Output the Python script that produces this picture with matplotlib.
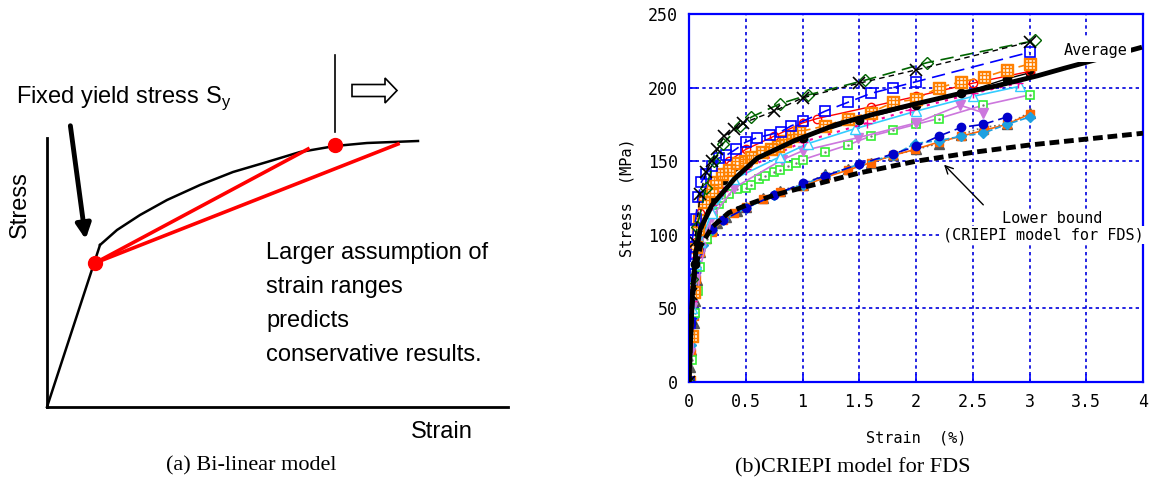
import numpy as np
import matplotlib.pyplot as plt
from matplotlib.path import Path
from matplotlib.patches import FancyArrow

# ---------------- data ----------------
# (a) schematic bi-linear model (arbitrary units, origin at axis corner)
elastic_x = [0, 53]
elastic_y = [0, 162]
plastic_x = [53, 70, 93, 120, 153, 186, 220, 253, 288, 320, 371]
plastic_y = [162, 177, 192, 207, 222, 235, 245, 255, 261, 264, 266]
yield_pt = (48, 144)
upper_pt = (288, 262)
bilin_end_x = [261, 351]
bilin_end_y = [258, 263]

# (b) measured stress-strain curves, strain (%) / stress (MPa)
x_cross = [0, 0.02, 0.05, 0.1, 0.15, 0.2, 0.25, 0.31, 0.4, 0.48, 0.75, 1.0, 1.5, 2.0, 3.0]
y_cross = [0, 60, 95, 128, 143, 150, 158, 167, 172, 176, 184, 193, 203, 212, 231]

x_dia = [0, 0.03, 0.07, 0.15, 0.22, 0.3, 0.45, 0.55, 0.8, 1.05, 1.55, 2.1, 3.05]
y_dia = [0, 70, 105, 132, 150, 162, 174, 180, 189, 195, 205, 217, 232]

x_bsq = [0, 0.005, 0.01, 0.02, 0.04, 0.06, 0.08, 0.11, 0.15, 0.2, 0.26, 0.33, 0.41,
         0.5, 0.6, 0.71, 0.81, 0.9, 1.0, 1.2, 1.4, 1.6, 1.8, 2.0, 3.0]
y_bsq = [0, 40, 80, 92, 103, 111, 126, 136, 141, 147, 152, 154, 158,
         163, 166, 168, 170, 174, 177, 184, 190, 196, 200, 204, 224]

x_osq = [0, 0.03, 0.04, 0.06, 0.08, 0.09, 0.13, 0.2, 0.24, 0.29, 0.35, 0.42, 0.49, 0.55,
         0.64, 0.72, 0.78, 0.85, 0.91, 0.97, 1.2, 1.4, 1.6, 1.8, 2.0, 2.2, 2.4, 2.6, 2.8, 3.0]
y_osq = [0, 31, 61, 92, 104, 110, 122, 130, 136, 141, 144, 149, 150, 153,
         156, 158, 160, 164, 167, 170, 174, 179, 183, 190, 192, 200, 204, 207, 212, 216]

x_rcir = [0, 0.03, 0.06, 0.1, 0.2, 0.35, 0.5, 0.75, 1.0, 1.13, 1.6, 2.0, 2.5, 3.0]
y_rcir = [0, 60, 95, 115, 135, 150, 158, 167, 176, 179, 187, 194, 203, 211]

x_kcir = [0, 0.02, 0.05, 0.1, 0.2, 0.3, 0.5, 0.75, 1.0, 1.5, 2.0, 2.4, 2.8, 3.0]
y_kcir = [0, 40, 80, 105, 125, 137, 148, 158, 166, 178, 188, 196, 206, 210]

x_plus = [0, 0.03, 0.06, 0.1, 0.2, 0.3, 0.5, 1.0, 1.57, 1.95, 2.5, 2.9]
y_plus = [0, 55, 85, 100, 120, 130, 145, 163, 176, 185, 196, 203]

x_ctri = [0, 0.03, 0.06, 0.1, 0.2, 0.4, 0.8, 1.05, 1.46, 2.0, 2.5, 2.92]
y_ctri = [0, 50, 80, 95, 115, 138, 153, 162, 172, 184, 194, 201]

x_ptri = [0, 0.01, 0.03, 0.05, 0.1, 0.2, 0.4, 0.82, 1.0, 1.49, 2.0, 2.39, 2.59]
y_ptri = [0, 20, 50, 70, 92, 112, 132, 151, 157, 166, 176, 188, 183]

x_gsq = [0, 0.03, 0.04, 0.05, 0.08, 0.1, 0.16, 0.21, 0.26, 0.29, 0.35, 0.42, 0.5, 0.55,
         0.62, 0.67, 0.75, 0.8, 0.87, 0.94, 1.0, 1.2, 1.4, 1.6, 1.8, 2.0, 2.2, 2.59, 3.0]
y_gsq = [0, 15, 31, 47, 62, 78, 97, 115, 121, 125, 128, 131, 132, 134,
         138, 140, 143, 144, 147, 149, 151, 156, 161, 167, 171, 175, 179, 188, 195]

x_gtri = [0, 0.01, 0.02, 0.04, 0.05, 0.07, 0.1, 0.15, 0.2, 0.25, 0.33, 0.42, 0.5, 0.65,
          0.8, 1.0, 1.2, 1.4, 1.6, 1.8, 2.0, 2.2, 2.4, 2.59, 2.8, 3.0]
y_gtri = [0, 10, 22, 40, 55, 69, 88, 98, 104, 108, 112, 116, 119, 125,
          130, 134, 141, 145, 149, 154, 158, 162, 168, 173, 175, 183]

x_ofsq = [0, 0.02, 0.04, 0.06, 0.1, 0.15, 0.2, 0.3, 0.4, 0.5, 0.65, 0.8, 1.0, 1.2,
          1.4, 1.6, 1.8, 1.99, 2.2, 2.4, 2.6, 2.8, 3.0]
y_ofsq = [0, 20, 45, 70, 88, 97, 102, 110, 115, 119, 124, 129, 133, 139,
          144, 149, 154, 158, 163, 167, 171, 175, 182]

x_cdia = [0, 0.02, 0.04, 0.08, 0.12, 0.2, 0.3, 0.5, 0.75, 1.0, 1.2, 1.5, 1.8, 1.99,
          2.2, 2.4, 2.59, 2.8, 3.0]
y_cdia = [0, 25, 45, 80, 93, 103, 110, 118, 127, 134, 140, 148, 154, 162,
          164, 167, 169, 175, 180]

x_bcir = [0, 0.03, 0.06, 0.1, 0.2, 0.3, 0.5, 0.75, 1.0, 1.2, 1.5, 1.8, 2.0, 2.2, 2.4, 2.59, 2.8]
y_bcir = [0, 45, 75, 90, 104, 110, 118, 127, 135, 140, 148, 155, 160, 167, 173, 175, 180]

x_avg = [0, 0.03, 0.06, 0.1, 0.2, 0.4, 0.6, 0.93, 1.3, 1.68, 2.0, 2.39, 2.7, 3.07, 3.3, 3.97]
y_avg = [0, 60, 88, 104, 120, 138, 152, 164, 175, 183, 189, 196, 201, 208, 213, 227]

x_low = [0, 0.02, 0.05, 0.1, 0.2, 0.35, 0.5, 0.75, 1.0, 1.5, 2.0, 2.5, 3.0, 3.5, 4.0]
y_low = [0, 45, 75, 92, 105, 115, 120, 127, 132, 142, 150, 156, 161, 165, 169]

xticks = [0, 0.5, 1, 1.5, 2, 2.5, 3, 3.5, 4]
xtick_labels = ['0', '0.5', '1', '1.5', '2', '2.5', '3', '3.5', '4']
yticks = [0, 50, 100, 150, 200, 250]

# ---------------- figure ----------------
fig = plt.figure(figsize=(11.49, 4.84), dpi=100)
sans = 'Liberation Sans'
mono = 'DejaVu Sans Mono'

# (a) schematic
axa = fig.add_axes([0, 34 / 484, 560 / 1149, 450 / 484])
axa.set_xlim(-47, 513)
axa.set_ylim(-43, 407)
axa.axis('off')
axa.plot([0, 0], [0, 269], color='k', lw=2)
axa.plot([0, 461], [0, 0], color='k', lw=2)
axa.plot(elastic_x, elastic_y, color='k', lw=1.8)
axa.plot(plastic_x, plastic_y, color='k', lw=1.8)
for xe, ye in zip(bilin_end_x, bilin_end_y):
    axa.plot([yield_pt[0], xe], [yield_pt[1], ye], color='#FF0000', lw=2.6)
axa.plot(*yield_pt, 'o', color='#FF0000', ms=10, zorder=5)
axa.plot(*upper_pt, 'o', color='#FF0000', ms=10, zorder=5)
axa.plot([upper_pt[0], upper_pt[0]], [275, 352], color='k', lw=1.2)
axa.add_patch(FancyArrow(305, 316.5, 45, 0, width=12, head_width=25, head_length=12,
                         length_includes_head=True, fc='white', ec='k', lw=1.2))
axa.annotate('', xy=(39, 165), xytext=(23, 284),
             arrowprops=dict(arrowstyle='-|>', color='k', lw=3.5, mutation_scale=22))
axa.text(-31, 304, r'Fixed yield stress S$_\mathregular{y}$', fontsize=17,
         family=sans, ha='left', va='baseline')
axa.text(-27, 202, 'Stress', fontsize=17, family=sans, rotation=90,
         ha='center', va='center')
axa.text(395, -25, 'Strain', fontsize=17, family=sans, ha='center', va='center')
axa.text(219, 165, 'Larger assumption of\nstrain ranges\npredicts\nconservative results.',
         fontsize=17, family=sans, ha='left', va='top', linespacing=1.7)

# (b) CRIEPI model
ax = fig.add_axes([689 / 1149, 102 / 484, 454 / 1149, 368 / 484])
ax.set_xlim(0, 4)
ax.set_ylim(0, 250)

ms = 6
ax.plot(x_gtri, y_gtri, color='#666666', ls=':', lw=1.2, marker='^', ms=ms + 1,
        mfc='#555555', mec='#555555')
ax.plot(x_ofsq, y_ofsq, color='#FF6600', ls='-', lw=1.2, marker='s', ms=ms,
        mfc='#FF6600', mec='#FF6600')
ax.plot(x_cdia, y_cdia, color='#1EA0E0', ls='--', lw=1.2, marker='D', ms=ms - 1,
        mfc='#1EA0E0', mec='#1EA0E0')
ax.plot(x_bcir, y_bcir, color='#0000CC', ls=(0, (6, 3)), lw=1.2, marker='o', ms=ms,
        mfc='#0000CC', mec='#0000CC')
ax.plot(x_gsq, y_gsq, color='#CC77DD', ls='-', lw=1.2, marker='s', ms=ms,
        mfc='white', mec='#33EE33', mew=1.2)
ax.plot(x_gsq, y_gsq, ls='none', marker='.', ms=1.5, color='#777777')
ax.plot(x_ptri, y_ptri, color='#CC77DD', ls='-', lw=1.2, marker='v', ms=ms + 1,
        mfc='#CC77DD', mec='#CC77DD')
ax.plot(x_ctri, y_ctri, color='#33CCFF', ls='-', lw=1.2, marker='^', ms=ms + 1,
        mfc='white', mec='#33CCFF')
ax.plot(x_plus, y_plus, color='#FF0099', ls=(0, (1.5, 3)), lw=1.5, marker='+', ms=ms + 1,
        mec='#FF0099')
ax.plot(x_kcir, y_kcir, color='k', ls='-', lw=1.0, marker='o', ms=ms, mfc='k', mec='k')
ax.plot(x_avg, y_avg, color='k', ls='-', lw=3.5, zorder=3)
ax.plot(x_rcir, y_rcir, color='#FF0000', ls='-', lw=1.0, marker='o', ms=ms,
        mfc='none', mec='#FF0000')
# orange squares with grid pattern
grid_verts = [(-1, -1), (1, -1), (1, 1), (-1, 1), (-1, -1),
              (-1 / 3, -1), (-1 / 3, 1), (1 / 3, -1), (1 / 3, 1),
              (-1, -1 / 3), (1, -1 / 3), (-1, 1 / 3), (1, 1 / 3)]
grid_codes = [Path.MOVETO, Path.LINETO, Path.LINETO, Path.LINETO, Path.LINETO,
              Path.MOVETO, Path.LINETO, Path.MOVETO, Path.LINETO,
              Path.MOVETO, Path.LINETO, Path.MOVETO, Path.LINETO]
grid_marker = Path(grid_verts, grid_codes)
ax.plot(x_osq, y_osq, color='#FF8000', ls=(0, (5, 3)), lw=1.2, marker='s', ms=ms + 1,
        mfc='white', mec='#FF8000')
ax.plot(x_osq, y_osq, ls='none', marker=grid_marker, ms=ms + 2, mfc='none',
        mec='#FF8000', mew=1.0)
ax.plot(x_bsq, y_bsq, color='#0000FF', ls=(0, (8, 4)), lw=1.2, marker='s', ms=ms + 1,
        mfc='none', mec='#0000FF', mew=1.2)
ax.plot(x_dia, y_dia, color='#006400', ls=(0, (8, 4)), lw=1.2, marker='D', ms=ms,
        mfc='none', mec='#006400')
ax.plot(x_cross, y_cross, color='k', ls=(0, (4, 3)), lw=1.0, marker='x', ms=ms + 2,
        mec='k', mew=1.2)
ax.plot(x_low, y_low, color='k', ls=(0, (2, 1)), lw=3.5, zorder=4)

ax.set_xticks(xticks)
ax.set_xticklabels(xtick_labels)
ax.set_yticks(yticks)
ax.grid(True, color='#0000DD', ls=(0, (2, 2)), lw=1.2)
ax.set_axisbelow(True)
for sp in ax.spines.values():
    sp.set_color('#0000FF')
    sp.set_linewidth(1.6)
ax.tick_params(direction='in', length=6, width=1.2, color='#0000FF',
               labelsize=12, pad=8)
for lab in ax.get_xticklabels() + ax.get_yticklabels():
    lab.set_family(mono)
ax.set_xlabel('Strain  (%)', family=mono, fontsize=11, labelpad=14)
ax.set_ylabel('Stress  (MPa)', family=mono, fontsize=11, labelpad=10)

ax.text(3.58, 225.5, 'Average', family=mono, fontsize=11, ha='center', va='center',
        zorder=6, bbox=dict(fc='white', ec='none', pad=3))
ax.annotate('', xy=(2.23, 149), xytext=(2.61, 119),
            arrowprops=dict(arrowstyle='->', color='k', lw=1.0, mutation_scale=14))
ax.text(3.2, 111, 'Lower bound', family=mono, fontsize=11, ha='center', va='center',
        zorder=6, bbox=dict(fc='white', ec='none', pad=1))
ax.text(3.12, 100, '(CRIEPI model for FDS)', family=mono, fontsize=11, ha='center',
        va='center', zorder=6, bbox=dict(fc='white', ec='none', pad=1))

fig.text(251 / 1149, 1 - 466 / 484, '(a) Bi-linear model', family='Liberation Serif',
         fontsize=16, ha='center', va='center')
fig.text(853 / 1149, 1 - 468 / 484, '(b)CRIEPI model for FDS', family='Liberation Serif',
         fontsize=16, ha='center', va='center')

fig.savefig('out.png', dpi=100)
